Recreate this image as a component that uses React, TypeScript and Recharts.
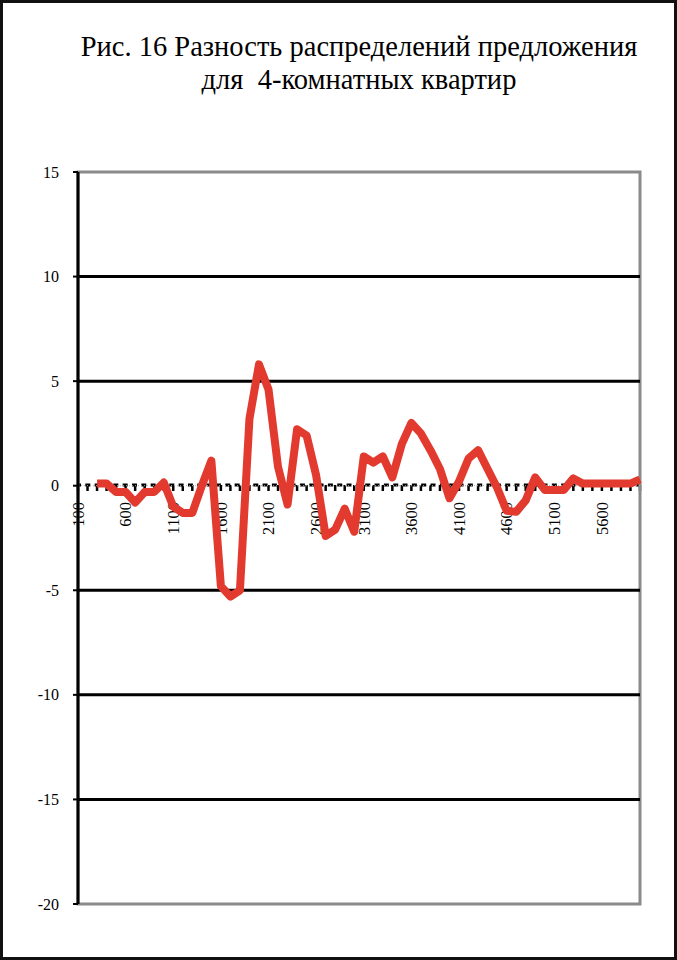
import React from 'react';
import { LineChart, Line, XAxis, YAxis, ReferenceLine, ReferenceArea } from 'recharts';

const categories = [
  100, 200, 300, 400, 500, 600, 700, 800, 900, 1000,
  1100, 1200, 1300, 1400, 1500, 1600, 1700, 1800, 1900, 2000,
  2100, 2200, 2300, 2400, 2500, 2600, 2700, 2800, 2900, 3000,
  3100, 3200, 3300, 3400, 3500, 3600, 3700, 3800, 3900, 4000,
  4100, 4200, 4300, 4400, 4500, 4600, 4700, 4800, 4900, 5000,
  5100, 5200, 5300, 5400, 5500, 5600, 5700, 5800, 5900, 6000,
];

const values: (number | null)[] = [
  null, null, 0.1, 0.1, -0.3, -0.3, -0.8, -0.3, -0.3, 0.15,
  -1.0, -1.3, -1.3, 0.0, 1.2, -4.8, -5.3, -5.0, 3.2, 5.8,
  4.6, 0.9, -0.9, 2.7, 2.4, 0.5, -2.4, -2.1, -1.1, -2.2,
  1.4, 1.1, 1.4, 0.4, 2.0, 3.0, 2.5, 1.7, 0.8, -0.6,
  0.2, 1.3, 1.7, 0.8, -0.1, -1.2, -1.25, -0.7, 0.4, -0.2,
  -0.2, -0.2, 0.35, 0.1, 0.1, 0.1, 0.1, 0.1, 0.1, 0.3,
];

const yTicks = [-20, -15, -10, -5, 0, 5, 10, 15];
const gridValues = [10, 5, -5, -10, -15];
const labelEvery = 5;
const titleLines = ['Рис. 16 Разность распределений предложения', 'для  4-комнатных квартир'];

const data = categories.map((c, i) => ({ cat: String(c), v: values[i] }));

const W = 677;
const H = 960;
const FONT = '"Liberation Serif", "Times New Roman", serif';

const XTick = (props: any) => {
  const { x, y, payload, index } = props;
  if (index % labelEvery !== 0) return null;
  return (
    <text
      x={x}
      y={y}
      transform={`rotate(-90 ${x} ${y})`}
      textAnchor="end"
      dy="0.35em"
      fontSize="16.5px"
      fontFamily={FONT}
      fill="#000"
    >
      {payload.value}
    </text>
  );
};

const YTick = (props: any) => {
  const { x, y, payload } = props;
  return (
    <text x={x} y={y} textAnchor="end" dy="0.35em" fontSize="16px" fontFamily={FONT} fill="#000">
      {payload.value}
    </text>
  );
};

export default function App() {
  return (
    <div style={{ position: 'absolute', left: 0, top: 0, width: W, height: H, background: '#fff', fontFamily: FONT }}>
      {/* axis layer crossing at zero */}
      <div style={{ position: 'absolute', left: 0, top: 0 }}>
        <LineChart width={W} height={H} data={data} margin={{ top: 172, right: 37, bottom: 415, left: 78 }}>
          <XAxis
            dataKey="cat"
            type="category"
            height={60}
            interval={0}
            tick={<XTick />}
            tickSize={6}
            tickMargin={11}
            axisLine={{ stroke: '#000', strokeWidth: 3, strokeDasharray: '5 4.33', strokeDashoffset: 2 }}
            tickLine={{ stroke: '#000', strokeWidth: 2.5 }}
          />
          <Line dataKey="v" stroke="none" dot={false} isAnimationActive={false} />
        </LineChart>
      </div>
      {/* main chart layer */}
      <div style={{ position: 'absolute', left: 0, top: 0 }}>
        <LineChart width={W} height={H} data={data} margin={{ top: 172, right: 37, bottom: 56, left: 0 }}>
          <XAxis dataKey="cat" type="category" hide />
          <YAxis
            type="number"
            domain={[-20, 15]}
            ticks={yTicks}
            interval={0}
            width={78}
            tickSize={5}
            tickMargin={14}
            axisLine={{ stroke: '#000', strokeWidth: 3 }}
            tickLine={{ stroke: '#000', strokeWidth: 2 }}
            tick={<YTick />}
            allowDataOverflow
          />
          <ReferenceArea y1={-20} y2={15} fill="none" stroke="#8a8a8a" strokeWidth={3} ifOverflow="visible" />
          {gridValues.map((g) => (
            <ReferenceLine key={g} y={g} stroke="#000" strokeWidth={3} />
          ))}
          <ReferenceLine y={0} stroke="#b0b0b0" strokeWidth={1} strokeDasharray="1 2" />
          <Line
            dataKey="v"
            stroke="#E23A2E"
            strokeWidth={8}
            strokeLinejoin="round"
            dot={false}
            connectNulls={false}
            isAnimationActive={false}
          />
        </LineChart>
      </div>
      {/* title */}
      {titleLines.map((t, i) => (
        <div
          key={i}
          style={{
            position: 'absolute',
            left: 40,
            width: 638,
            top: 31 + i * 33,
            textAlign: 'center',
            fontSize: 28.5,
            lineHeight: '32px',
            whiteSpace: 'pre',
            color: '#000',
            fontFamily: FONT,
          }}
        >
          {t}
        </div>
      ))}
      {/* outer frame */}
      <div style={{ position: 'absolute', left: 0, top: 0, width: W, height: H, border: '3px solid #111', boxSizing: 'border-box', pointerEvents: 'none' }} />
    </div>
  );
}
